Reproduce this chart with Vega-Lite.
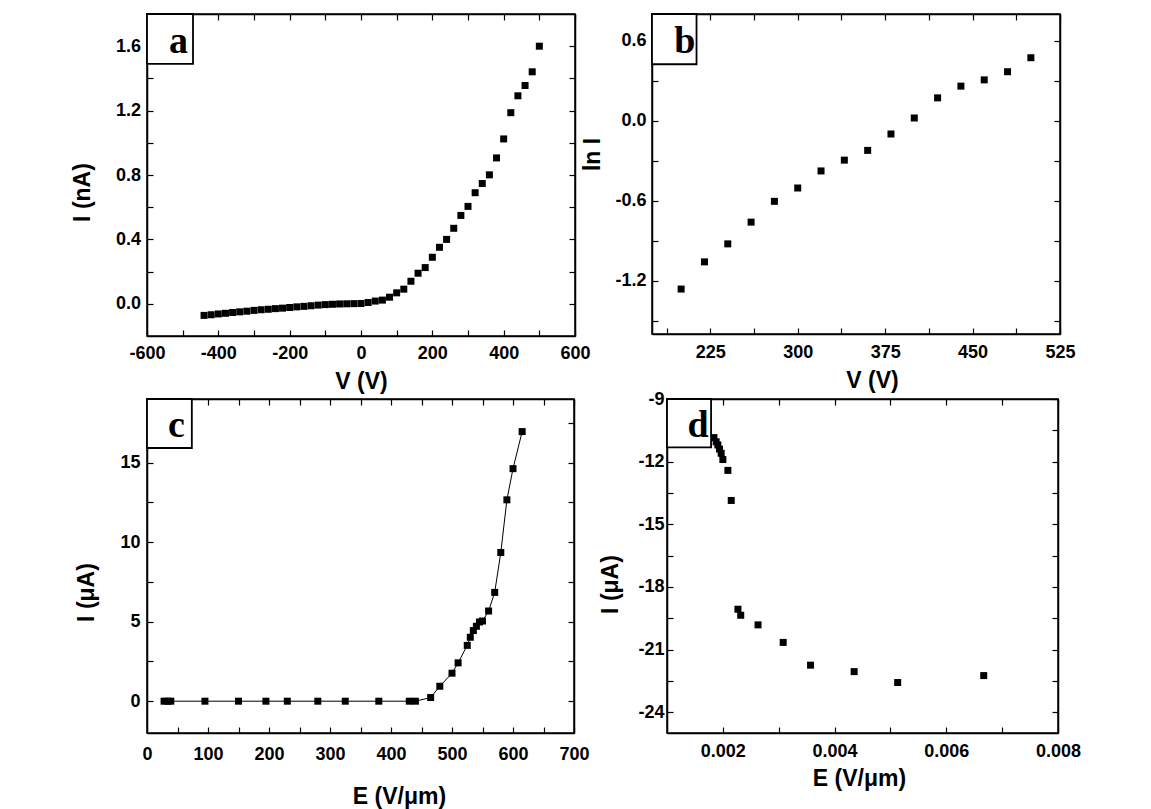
{
  "$schema": "https://vega.github.io/schema/vega-lite/v6.json",
  "padding": {"left": 70, "top": 12, "right": 0, "bottom": 0},
  "background": "white",
  "spacing": -5,
  "config": {
    "view": {"stroke": "black", "strokeWidth": 1.5},
    "axis": {
      "domainColor": "black", "domainWidth": 1.5,
      "tickColor": "black", "tickWidth": 1.2, "tickSize": -6,
      "labelFont": "Liberation Sans", "labelFontSize": 18, "labelFontWeight": "bold", "labelColor": "black",
      "titleFont": "Liberation Sans", "titleFontSize": 23, "titleFontWeight": "bold", "titleColor": "black",
      "grid": false, "labelOverlap": false, "labelFlush": false
    }
  },
  "datasets": {
    "panelA": [
      {"V": -440, "I": -0.072}, {"V": -420, "I": -0.068}, {"V": -400, "I": -0.063}, {"V": -380, "I": -0.059},
      {"V": -360, "I": -0.054}, {"V": -340, "I": -0.050}, {"V": -320, "I": -0.046}, {"V": -300, "I": -0.041},
      {"V": -280, "I": -0.037}, {"V": -260, "I": -0.034}, {"V": -240, "I": -0.030}, {"V": -220, "I": -0.027},
      {"V": -200, "I": -0.023}, {"V": -180, "I": -0.019}, {"V": -160, "I": -0.016}, {"V": -140, "I": -0.012},
      {"V": -120, "I": -0.008}, {"V": -100, "I": -0.005}, {"V": -80, "I": -0.003}, {"V": -60, "I": -0.001},
      {"V": -40, "I": 0.000}, {"V": -20, "I": 0.001}, {"V": 0, "I": 0.002},
      {"V": 20, "I": 0.008}, {"V": 40, "I": 0.017}, {"V": 60, "I": 0.023}, {"V": 80, "I": 0.041},
      {"V": 100, "I": 0.068}, {"V": 120, "I": 0.091}, {"V": 140, "I": 0.140}, {"V": 160, "I": 0.190},
      {"V": 180, "I": 0.225}, {"V": 200, "I": 0.289}, {"V": 220, "I": 0.351}, {"V": 240, "I": 0.400},
      {"V": 260, "I": 0.469}, {"V": 280, "I": 0.549}, {"V": 300, "I": 0.605}, {"V": 320, "I": 0.690},
      {"V": 340, "I": 0.747}, {"V": 360, "I": 0.801}, {"V": 380, "I": 0.906}, {"V": 400, "I": 1.024},
      {"V": 420, "I": 1.187}, {"V": 440, "I": 1.292}, {"V": 460, "I": 1.356}, {"V": 480, "I": 1.441},
      {"V": 500, "I": 1.600}
    ],
    "panelB": [
      {"V": 200, "lnI": -1.263}, {"V": 220, "lnI": -1.059}, {"V": 240, "lnI": -0.924}, {"V": 260, "lnI": -0.761},
      {"V": 280, "lnI": -0.605}, {"V": 300, "lnI": -0.505}, {"V": 320, "lnI": -0.377}, {"V": 340, "lnI": -0.296},
      {"V": 360, "lnI": -0.223}, {"V": 380, "lnI": -0.100}, {"V": 400, "lnI": 0.020}, {"V": 420, "lnI": 0.171},
      {"V": 440, "lnI": 0.259}, {"V": 460, "lnI": 0.306}, {"V": 480, "lnI": 0.367}, {"V": 500, "lnI": 0.472}
    ],
    "panelC": [
      {"E": 28, "I": 0}, {"E": 34, "I": 0}, {"E": 39, "I": 0}, {"E": 95, "I": 0}, {"E": 150, "I": 0},
      {"E": 195, "I": 0}, {"E": 230, "I": 0}, {"E": 280, "I": 0}, {"E": 325, "I": 0}, {"E": 380, "I": 0},
      {"E": 430, "I": 0}, {"E": 440, "I": 0}, {"E": 465, "I": 0.23}, {"E": 480, "I": 0.94},
      {"E": 500, "I": 1.76}, {"E": 510, "I": 2.41}, {"E": 525, "I": 3.51}, {"E": 530, "I": 4.02},
      {"E": 535, "I": 4.44}, {"E": 540, "I": 4.71}, {"E": 545, "I": 4.98}, {"E": 550, "I": 5.04},
      {"E": 560, "I": 5.67}, {"E": 570, "I": 6.84}, {"E": 580, "I": 9.35}, {"E": 590, "I": 12.66},
      {"E": 600, "I": 14.62}, {"E": 615, "I": 16.95}
    ],
    "panelD": [
      {"E": 0.00184, "I": -10.85}, {"E": 0.00188, "I": -11.05}, {"E": 0.00191, "I": -11.2},
      {"E": 0.00194, "I": -11.4}, {"E": 0.00197, "I": -11.6}, {"E": 0.00200, "I": -11.9},
      {"E": 0.00209, "I": -12.42}, {"E": 0.00215, "I": -13.86}, {"E": 0.00227, "I": -19.07},
      {"E": 0.00232, "I": -19.36}, {"E": 0.00263, "I": -19.82}, {"E": 0.00308, "I": -20.66},
      {"E": 0.00357, "I": -21.75}, {"E": 0.00435, "I": -22.06}, {"E": 0.00513, "I": -22.58},
      {"E": 0.00667, "I": -22.25}
    ]
  },
  "vconcat": [
    {
      "spacing": -10,
      "hconcat": [
        {
          "width": 428, "height": 322,
          "resolve": {"axis": {"x": "independent", "y": "independent"}},
          "layer": [
            {
              "data": {"name": "panelA"},
              "mark": {"type": "point", "shape": "square", "filled": true, "size": 49, "color": "black", "opacity": 1},
              "encoding": {
                "x": {"field": "V", "type": "quantitative", "scale": {"domain": [-600, 600], "nice": false, "zero": false},
                  "axis": {"orient": "bottom", "title": "V (V)", "values": [-600, -500, -400, -300, -200, -100, 0, 100, 200, 300, 400, 500, 600],
                    "labelExpr": "datum.value % 200 === 0 ? replace(datum.label, '−', '-') : ''", "labelPadding": 14, "titlePadding": 8}},
                "y": {"field": "I", "type": "quantitative", "scale": {"domain": [-0.2, 1.8], "nice": false, "zero": false},
                  "axis": {"orient": "left", "title": "I (nA)", "format": ".1f", "values": [0, 0.2, 0.4, 0.6, 0.8, 1.0, 1.2, 1.4, 1.6],
                    "labelExpr": "abs(datum.value / 0.4 - round(datum.value / 0.4)) < 0.01 ? datum.label : ''",
                    "labelPadding": 12.5, "titlePadding": 21, "titleY": 178}}
              }
            },
            {
              "data": {"name": "panelA"},
              "mark": {"type": "point", "opacity": 0},
              "encoding": {
                "x": {"field": "V", "type": "quantitative", "scale": {"domain": [-600, 600], "nice": false, "zero": false},
                  "axis": {"orient": "top", "title": null, "labels": false, "values": [-600, -500, -400, -300, -200, -100, 0, 100, 200, 300, 400, 500, 600]}},
                "y": {"field": "I", "type": "quantitative", "scale": {"domain": [-0.2, 1.8], "nice": false, "zero": false},
                  "axis": {"orient": "right", "title": null, "labels": false, "values": [0, 0.2, 0.4, 0.6, 0.8, 1.0, 1.2, 1.4, 1.6]}}
              }
            },
            {
              "data": {"values": [{"label": "a"}]},
              "mark": {"type": "rect", "fill": "white", "stroke": "black", "strokeWidth": 1.8},
              "encoding": {
                "x": {"datum": -600, "type": "quantitative", "scale": {"domain": [-600, 600], "nice": false, "zero": false}, "axis": null},
                "x2": {"datum": -471},
                "y": {"datum": 1.8, "type": "quantitative", "scale": {"domain": [-0.2, 1.8], "nice": false, "zero": false}, "axis": null},
                "y2": {"datum": 1.49}
              }
            },
            {
              "data": {"values": [{"label": "a"}]},
              "mark": {"type": "text", "font": "Liberation Serif", "fontWeight": "bold", "fontSize": 38, "align": "center", "baseline": "alphabetic", "color": "black"},
              "encoding": {
                "x": {"datum": -512, "type": "quantitative", "scale": {"domain": [-600, 600], "nice": false, "zero": false}, "axis": null},
                "y": {"datum": 1.555, "type": "quantitative", "scale": {"domain": [-0.2, 1.8], "nice": false, "zero": false}, "axis": null},
                "text": {"field": "label"}
              }
            }
          ]
        },
        {
          "width": 408, "height": 320,
          "resolve": {"axis": {"x": "independent", "y": "independent"}},
          "layer": [
            {
              "data": {"name": "panelB"},
              "mark": {"type": "point", "shape": "square", "filled": true, "size": 49, "color": "black", "opacity": 1},
              "encoding": {
                "x": {"field": "V", "type": "quantitative", "scale": {"domain": [175, 525], "nice": false, "zero": false},
                  "axis": {"orient": "bottom", "title": "V (V)", "values": [187.5, 225, 262.5, 300, 337.5, 375, 412.5, 450, 487.5, 525],
                    "labelExpr": "datum.value % 75 === 0 ? datum.label : ''", "labelPadding": 15, "titlePadding": 8, "titleX": 220}},
                "y": {"field": "lnI", "type": "quantitative", "scale": {"domain": [-1.6, 0.8], "nice": false, "zero": false},
                  "axis": {"orient": "left", "title": "ln I", "format": ".1f", "values": [-1.5, -1.2, -0.9, -0.6, -0.3, 0, 0.3, 0.6],
                    "labelExpr": "abs(datum.value / 0.6 - round(datum.value / 0.6)) < 0.01 ? replace(datum.label, '−', '-') : ''",
                    "labelPadding": 12, "titlePadding": 10, "titleY": 140}}
              }
            },
            {
              "data": {"name": "panelB"},
              "mark": {"type": "point", "opacity": 0},
              "encoding": {
                "x": {"field": "V", "type": "quantitative", "scale": {"domain": [175, 525], "nice": false, "zero": false},
                  "axis": {"orient": "top", "title": null, "labels": false, "values": [187.5, 225, 262.5, 300, 337.5, 375, 412.5, 450, 487.5, 525]}},
                "y": {"field": "lnI", "type": "quantitative", "scale": {"domain": [-1.6, 0.8], "nice": false, "zero": false},
                  "axis": {"orient": "right", "title": null, "labels": false, "values": [-1.5, -1.2, -0.9, -0.6, -0.3, 0, 0.3, 0.6]}}
              }
            },
            {
              "data": {"values": [{"label": "b"}]},
              "mark": {"type": "rect", "fill": "white", "stroke": "black", "strokeWidth": 1.8},
              "encoding": {
                "x": {"datum": 175, "type": "quantitative", "scale": {"domain": [175, 525], "nice": false, "zero": false}, "axis": null},
                "x2": {"datum": 213.2},
                "y": {"datum": 0.8, "type": "quantitative", "scale": {"domain": [-1.6, 0.8], "nice": false, "zero": false}, "axis": null},
                "y2": {"datum": 0.423}
              }
            },
            {
              "data": {"values": [{"label": "b"}]},
              "mark": {"type": "text", "font": "Liberation Serif", "fontWeight": "bold", "fontSize": 38, "align": "center", "baseline": "alphabetic", "color": "black"},
              "encoding": {
                "x": {"datum": 203.2, "type": "quantitative", "scale": {"domain": [175, 525], "nice": false, "zero": false}, "axis": null},
                "y": {"datum": 0.51, "type": "quantitative", "scale": {"domain": [-1.6, 0.8], "nice": false, "zero": false}, "axis": null},
                "text": {"field": "label"}
              }
            }
          ]
        }
      ]
    },
    {
      "spacing": 9,
      "hconcat": [
        {
          "width": 427, "height": 334,
          "resolve": {"axis": {"x": "independent", "y": "independent"}},
          "layer": [
            {
              "data": {"name": "panelC"},
              "mark": {"type": "line", "color": "black", "strokeWidth": 1},
              "encoding": {
                "x": {"field": "E", "type": "quantitative", "scale": {"domain": [0, 700], "nice": false, "zero": false},
                  "axis": {"orient": "bottom", "title": "E (V/μm)", "values": [0, 50, 100, 150, 200, 250, 300, 350, 400, 450, 500, 550, 600, 650, 700],
                    "labelExpr": "datum.value % 100 === 0 ? datum.label : ''", "labelPadding": 18, "titlePadding": 22, "titleX": 252}},
                "y": {"field": "I", "type": "quantitative", "scale": {"domain": [-2, 19], "nice": false, "zero": false},
                  "axis": {"orient": "left", "title": "I (μA)", "values": [0, 2.5, 5, 7.5, 10, 12.5, 15, 17.5],
                    "labelExpr": "datum.value % 5 === 0 ? datum.label : ''",
                    "labelPadding": 13, "titlePadding": 21, "titleY": 193}}
              }
            },
            {
              "data": {"name": "panelC"},
              "mark": {"type": "point", "shape": "square", "filled": true, "size": 49, "color": "black", "opacity": 1},
              "encoding": {
                "x": {"field": "E", "type": "quantitative", "scale": {"domain": [0, 700], "nice": false, "zero": false},
                  "axis": {"orient": "top", "title": null, "labels": false, "values": [0, 50, 100, 150, 200, 250, 300, 350, 400, 450, 500, 550, 600, 650, 700]}},
                "y": {"field": "I", "type": "quantitative", "scale": {"domain": [-2, 19], "nice": false, "zero": false},
                  "axis": {"orient": "right", "title": null, "labels": false, "values": [0, 2.5, 5, 7.5, 10, 12.5, 15, 17.5]}}
              }
            },
            {
              "data": {"values": [{"label": "c"}]},
              "mark": {"type": "rect", "fill": "white", "stroke": "black", "strokeWidth": 1.8},
              "encoding": {
                "x": {"datum": 0, "type": "quantitative", "scale": {"domain": [0, 700], "nice": false, "zero": false}, "axis": null},
                "x2": {"datum": 73.5},
                "y": {"datum": 19, "type": "quantitative", "scale": {"domain": [-2, 19], "nice": false, "zero": false}, "axis": null},
                "y2": {"datum": 15.92}
              }
            },
            {
              "data": {"values": [{"label": "c"}]},
              "mark": {"type": "text", "font": "Liberation Serif", "fontWeight": "bold", "fontSize": 38, "align": "center", "baseline": "alphabetic", "color": "black"},
              "encoding": {
                "x": {"datum": 48.4, "type": "quantitative", "scale": {"domain": [0, 700], "nice": false, "zero": false}, "axis": null},
                "y": {"datum": 16.6, "type": "quantitative", "scale": {"domain": [-2, 19], "nice": false, "zero": false}, "axis": null},
                "text": {"field": "label"}
              }
            }
          ]
        },
        {
          "width": 391, "height": 334,
          "resolve": {"axis": {"x": "independent", "y": "independent"}},
          "layer": [
            {
              "data": {"name": "panelD"},
              "mark": {"type": "point", "shape": "square", "filled": true, "size": 49, "color": "black", "opacity": 1},
              "encoding": {
                "x": {"field": "E", "type": "quantitative", "scale": {"domain": [0.001, 0.008], "nice": false, "zero": false},
                  "axis": {"orient": "bottom", "title": "E (V/μm)", "format": ".3f", "values": [0.001, 0.002, 0.003, 0.004, 0.005, 0.006, 0.007, 0.008],
                    "labelExpr": "round(datum.value * 1000) % 2 === 0 ? datum.label : ''", "labelPadding": 15, "titlePadding": 7, "titleX": 192}},
                "y": {"field": "I", "type": "quantitative", "scale": {"domain": [-25, -9], "nice": false, "zero": false},
                  "axis": {"orient": "left", "title": "I (μA)", "values": [-24, -22.5, -21, -19.5, -18, -16.5, -15, -13.5, -12, -10.5, -9],
                    "labelExpr": "datum.value % 3 === 0 ? replace(datum.label, '−', '-') : ''",
                    "labelPadding": 9, "titlePadding": 15, "titleY": 185}}
              }
            },
            {
              "data": {"name": "panelD"},
              "mark": {"type": "point", "opacity": 0},
              "encoding": {
                "x": {"field": "E", "type": "quantitative", "scale": {"domain": [0.001, 0.008], "nice": false, "zero": false},
                  "axis": {"orient": "top", "title": null, "labels": false, "values": [0.001, 0.002, 0.003, 0.004, 0.005, 0.006, 0.007, 0.008]}},
                "y": {"field": "I", "type": "quantitative", "scale": {"domain": [-25, -9], "nice": false, "zero": false},
                  "axis": {"orient": "right", "title": null, "labels": false, "values": [-24, -22.5, -21, -19.5, -18, -16.5, -15, -13.5, -12, -10.5, -9]}}
              }
            },
            {
              "data": {"values": [{"label": "d"}]},
              "mark": {"type": "rect", "fill": "white", "stroke": "black", "strokeWidth": 1.8},
              "encoding": {
                "x": {"datum": 0.001, "type": "quantitative", "scale": {"domain": [0.001, 0.008], "nice": false, "zero": false}, "axis": null},
                "x2": {"datum": 0.001789},
                "y": {"datum": -9, "type": "quantitative", "scale": {"domain": [-25, -9], "nice": false, "zero": false}, "axis": null},
                "y2": {"datum": -11.32}
              }
            },
            {
              "data": {"values": [{"label": "d"}]},
              "mark": {"type": "text", "font": "Liberation Serif", "fontWeight": "bold", "fontSize": 38, "align": "center", "baseline": "alphabetic", "color": "black"},
              "encoding": {
                "x": {"datum": 0.001554, "type": "quantitative", "scale": {"domain": [0.001, 0.008], "nice": false, "zero": false}, "axis": null},
                "y": {"datum": -10.83, "type": "quantitative", "scale": {"domain": [-25, -9], "nice": false, "zero": false}, "axis": null},
                "text": {"field": "label"}
              }
            }
          ]
        }
      ]
    }
  ]
}
